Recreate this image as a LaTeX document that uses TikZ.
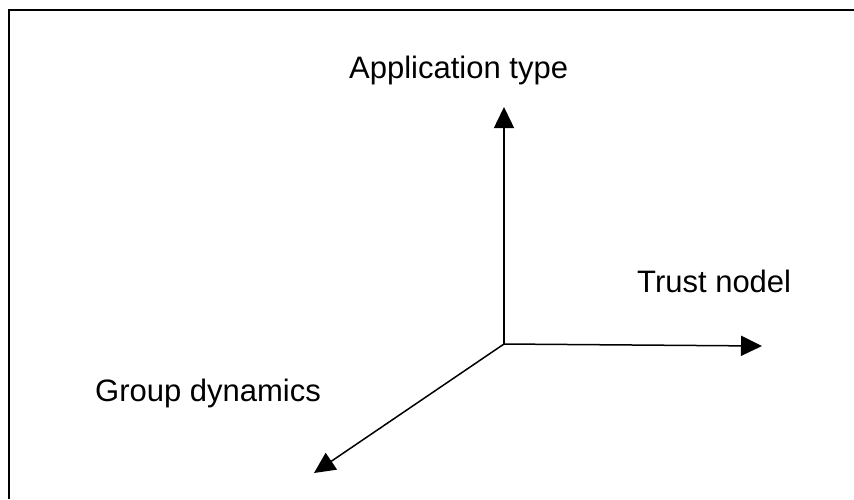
\documentclass[tikz,border=0pt]{standalone}
\usepackage{fontspec}
\setmainfont{Liberation Sans}
\usetikzlibrary{arrows.meta}
\begin{document}
\begin{tikzpicture}[x=1pt,y=-1pt,
  axis/.style={line width=1.5pt,-{Triangle[length=21pt,width=20pt]}},
  label/.style={anchor=base west,inner sep=0pt,font=\fontsize{31}{36}\selectfont}]
\useasboundingbox (0,0) rectangle (854,499);
% open frame: only the top and left edges show
\draw[line width=2pt] (8.5,499) -- (8.5,9.5) -- (854,9.5);
% axes meeting at the origin
\coordinate (o) at (504,344);
\coordinate (up) at (504,107);
\coordinate (right) at (762,346);
\coordinate (dl) at (314,473);
\draw[axis] (o) -- (up);
\draw[axis] (o) -- (right);
\draw[axis] (o) -- (dl);
% axis labels
\node[label] (app) at (349,78) {Application type};
\node[label] (trust) at (637,292) {Trust nodel};
\node[label] (group) at (95,401) {Group dynamics};
\end{tikzpicture}
\end{document}
